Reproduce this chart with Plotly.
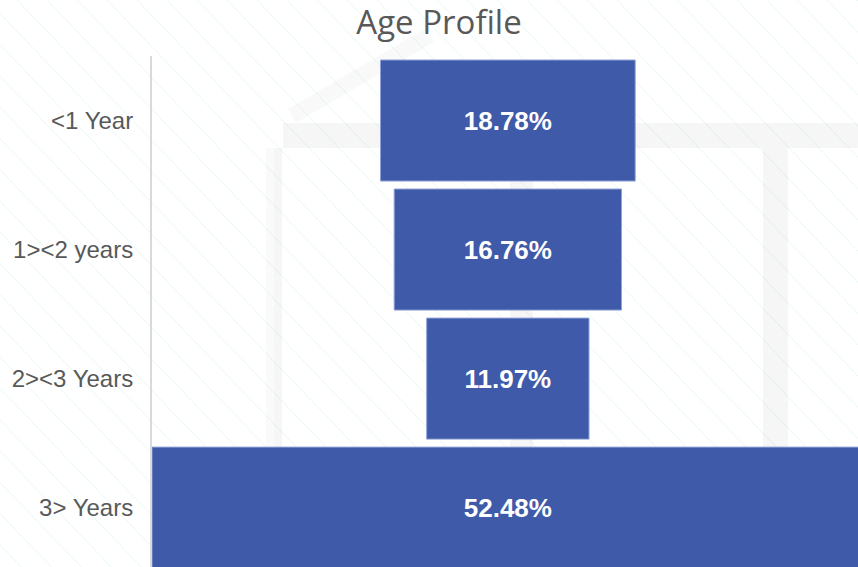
import plotly.graph_objects as go

# ---- data ----
categories = ["<1 Year", "1><2 years", "2><3 Years", "3> Years"]
values = [18.78, 16.76, 11.97, 52.48]
title_text = "Age Profile"

W, H = 858, 567
ML, MR, MT, MB = 152, 0, 56, 0
PW, PH = W - ML - MR, H - MT - MB


def px_x(px):
    return (px - ML) / PW


def px_y(py):
    return 1 - (py - MT) / PH


shapes = []
# faint diagonal stripes (decorative background)
stripe_color = "rgba(195,238,232,0.42)"
for k in range(-20, 30):
    x0 = 17 + 30 * k
    shapes.append(dict(type="line", xref="paper", yref="paper",
                       x0=px_x(x0), y0=px_y(0), x1=px_x(x0 + 0.96 * H), y1=px_y(H),
                       line=dict(color=stripe_color, width=1), layer="below"))

# faint house watermark
wm = "rgba(0,0,0,0.035)"
def rect(x0, y0, x1, y1, color=wm):
    shapes.append(dict(type="rect", xref="paper", yref="paper",
                       x0=px_x(x0), y0=px_y(y1), x1=px_x(x1), y1=px_y(y0),
                       fillcolor=color, line=dict(width=0), layer="below"))

rect(283, 123, 858, 148)
rect(266, 148, 282, 447, "rgba(0,0,0,0.02)")
rect(274, 148, 282, 447, "rgba(0,0,0,0.015)")
rect(763, 148, 788, 447)
rect(510, 148, 533, 447)
shapes.append(dict(type="line", xref="paper", yref="paper",
                   x0=px_x(292), y0=px_y(116), x1=px_x(430), y1=px_y(35),
                   line=dict(color="rgba(0,0,0,0.022)", width=16), layer="below"))

fig = go.Figure(go.Funnel(
    y=categories,
    x=values,
    texttemplate="%{x:.2f}%",
    textposition="inside",
    insidetextanchor="middle",
    textfont=dict(family="Liberation Sans, Arial, sans-serif", size=26,
                  color="white", weight="bold"),
    marker=dict(color="#3F5AA8", line=dict(color="#8FA1D6", width=1)),
    connector=dict(visible=False),
    hoverinfo="skip",
))

fig.update_layout(
    width=W, height=H,
    margin=dict(l=ML, r=MR, t=MT, b=MB, pad=0),
    paper_bgcolor="white",
    plot_bgcolor="rgba(0,0,0,0)",
    funnelgap=0.062,
    showlegend=False,
    shapes=shapes,
    title=dict(text=title_text, x=439 / W, xref="container", xanchor="center",
               y=1 - 22 / H, yref="container", yanchor="middle",
               font=dict(family="Open Sans", size=33, color="#595959")),
    xaxis=dict(range=[-26.24, 25.82], showticklabels=False, showgrid=False,
               zeroline=False, showline=False, fixedrange=True),
    yaxis=dict(range=[3.46, -0.5], autorange=False, showgrid=False, zeroline=False,
               showline=True, linecolor="#d9d9d9", linewidth=2, ticks="",
               ticklabelstandoff=12,
               tickfont=dict(family="Liberation Sans, Arial, sans-serif", size=24,
                             color="#595959")),
)

fig.write_html("out.html",
               config={"displayModeBar": False},
               post_script="document.body.style.margin='0';document.body.style.overflow='hidden';")
